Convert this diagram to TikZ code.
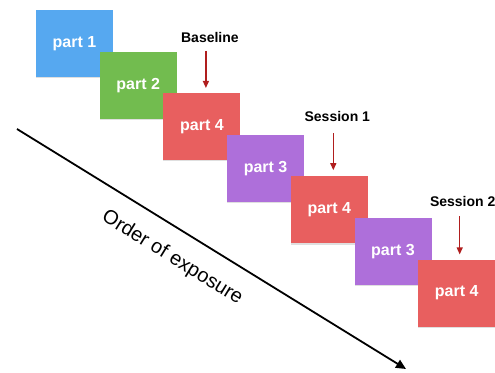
\documentclass[tikz,border=0pt]{standalone}
\usepackage{fontspec}
\setmainfont{Liberation Sans}
\usetikzlibrary{arrows.meta}
\usetikzlibrary{positioning}
\usetikzlibrary{shadows}
\definecolor{partblue}{RGB}{86,168,240}
\definecolor{partgreen}{RGB}{114,188,79}
\definecolor{partred}{RGB}{232,95,95}
\definecolor{partpurple}{RGB}{174,111,218}
\definecolor{cuered}{RGB}{176,30,30}
\tikzset {
  % coloured block for one part of the task
  part/.style = {
    rectangle,
    minimum width = 77pt,
    minimum height = 67pt,
    inner sep = 0,
    text = white,
    font = \fontsize{16}{16}\selectfont\bfseries,
    drop shadow = {shadow xshift = 0pt, shadow yshift = -1.2pt, opacity = .25}
  },
  % session label above a block
  cue/.style = {
    inner sep = 0,
    font = \fontsize{14}{14}\selectfont\bfseries
  },
  cue arrow/.style = {
    draw = cuered,
    line width = 1.3pt,
    -{Triangle[length = 7pt, width = 6pt]}
  },
  order arrow/.style = {
    draw = black,
    line width = 1.8pt,
    -{Triangle[length = 10pt, width = 9pt]}
  },
  node distance = 41.6pt and 63.7pt
}

\begin{document}
\begin{tikzpicture}
  \useasboundingbox (0,0) rectangle (495pt,372pt);

  % staircase of blocks
  \node[part, fill = partblue] (p1) at (74.5pt,328.5pt) {part 1};
  \node[part, fill = partgreen, on grid] (p2) [below right=of p1] {part 2};
  \node[part, fill = partred, on grid] (p3) [below right=of p2] {part 4};
  \node[part, fill = partpurple, on grid] (p4) [below right=of p3] {part 3};
  \node[part, fill = partred, on grid] (p5) [below right=of p4] {part 4};
  \node[part, fill = partpurple, on grid] (p6) [below right=of p5] {part 3};
  \node[part, fill = partred, on grid] (p7) [below right=of p6] {part 4};

  % labels
  \coordinate[above=5pt of p3.north, xshift=4pt] (base-tip);
  \coordinate[above=37pt of base-tip] (base-tail);
  \node[cue] (base) [above=8pt of base-tail, xshift=4pt] {Baseline};

  \coordinate[above=6pt of p5.north, xshift=4pt] (ses1-tip);
  \coordinate[above=37pt of ses1-tip] (ses1-tail);
  \node[cue] (ses1) [above=11pt of ses1-tail, xshift=4pt] {Session 1};

  \coordinate[above=5pt of p7.north, xshift=3pt] (ses2-tip);
  \coordinate[above=38pt of ses2-tip] (ses2-tail);
  \node[cue] (ses2) [above=10pt of ses2-tail, xshift=3pt] {Session 2};

  \draw[cue arrow] (base-tail) -- (base-tip);
  \draw[cue arrow] (ses1-tail) -- (ses1-tip);
  \draw[cue arrow] (ses2-tail) -- (ses2-tip);

  % order of exposure
  \coordinate (ord-start) at (17pt,243pt);
  \coordinate (ord-end) at (406pt,3pt);
  \draw[order arrow] (ord-start) -- (ord-end)
    node[pos = 0.437, sloped, below = 18pt, inner sep = 0,
      font = \fontsize{20}{20}\selectfont] (order) {Order of exposure};
\end{tikzpicture}
\end{document}
